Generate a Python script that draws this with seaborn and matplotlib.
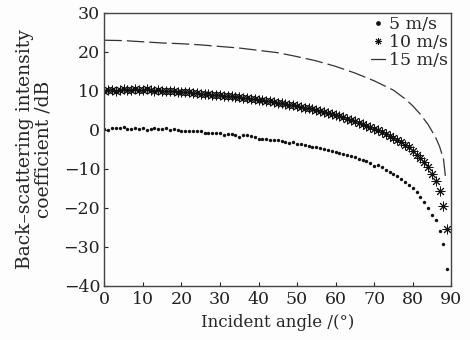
import numpy as np
import pandas as pd
import matplotlib
matplotlib.use("Agg")
import matplotlib.pyplot as plt
import seaborn as sns
from matplotlib.lines import Line2D

# incident angle (deg) for the scattered series
angle = list(range(0, 90))

# 5 m/s back-scattering coefficient (dB)
v5 = [0.3, 0.1, 0.6, 0.4, 0.5, 0.7, 0.3, 0.2, 0.6, 0.3,
      0.5, 0.0, 0.2, 0.6, 0.2, 0.3, 0.4, -0.1, 0.3, 0.1,
      -0.3, -0.3, -0.2, -0.4, -0.2, -0.3, -0.7, -0.8, -0.7, -0.9,
      -0.8, -1.3, -1.1, -1.0, -1.4, -1.7, -1.3, -1.2, -1.6, -1.9,
      -2.2, -2.3, -2.4, -2.5, -2.6, -2.7, -2.8, -3.1, -3.3, -3.2,
      -3.5, -3.7, -3.9, -4.1, -4.3, -4.5, -4.7, -5.0, -5.2, -5.4,
      -5.6, -5.8, -6.1, -6.3, -6.6, -7.0, -7.4, -7.6, -8.0, -8.6,
      -9.2, -9.0, -9.6, -10.2, -10.7, -11.3, -11.9, -12.6, -13.3, -14.1,
      -15.0, -16.0, -17.2, -18.4, -19.9, -21.9, -23.2, -26.0, -29.3, -35.6]

# 10 m/s back-scattering coefficient (dB)
v10 = [10.0, 10.2, 10.3, 10.1, 10.3, 10.4, 10.2, 10.3, 10.4, 10.3,
       10.2, 10.4, 10.2, 10.1, 10.2, 10.0, 10.1, 9.9, 10.0, 9.8,
       9.7, 9.6, 9.6, 9.5, 9.4, 9.3, 9.3, 9.1, 9.0, 9.0,
       8.9, 8.8, 8.7, 8.6, 8.5, 8.4, 8.3, 8.2, 8.0, 7.9,
       7.8, 7.6, 7.5, 7.3, 7.2, 7.0, 6.9, 6.7, 6.5, 6.3,
       6.1, 5.9, 5.7, 5.5, 5.3, 5.0, 4.8, 4.5, 4.3, 4.0,
       3.7, 3.5, 3.2, 2.9, 2.6, 2.2, 1.9, 1.5, 1.1, 0.7,
       0.3, -0.1, -0.6, -1.0, -1.5, -2.0, -2.6, -3.2, -3.8, -4.5,
       -5.4, -6.3, -7.1, -8.2, -9.5, -11.2, -13.2, -15.6, -19.5, -25.4]

# 15 m/s curve (dB)
angle15 = [0, 5, 10, 15, 20, 25, 30, 35, 40, 45, 50, 55, 60, 65, 70,
           75, 78, 80, 82, 84, 86, 87, 88, 88.6]
v15 = [23.0, 22.9, 22.6, 22.3, 22.1, 21.8, 21.4, 21.0, 20.4, 19.8, 18.8,
       17.7, 16.3, 14.6, 12.6, 10.2, 8.0, 6.2, 4.0, 1.4, -2.0, -4.3, -7.5, -12.8]

sns.set_style("ticks")
plt.rcParams['font.family'] = ['DejaVu Serif']
plt.rcParams['mathtext.fontset'] = 'dejavuserif'

fig = plt.figure(figsize=(4.7, 3.4), dpi=100)
fig.patch.set_facecolor('#fdfdfd')
ax = fig.add_axes([0.222, 0.159, 0.738, 0.803])
ax.set_facecolor('#fdfdfd')

df5 = pd.DataFrame({'angle': angle, 'val': v5})
df10 = pd.DataFrame({'angle': angle, 'val': v10})
df15 = pd.DataFrame({'angle': angle15, 'val': v15})

sns.lineplot(data=df15, x='angle', y='val', ax=ax, color='#333333', lw=0.9,
             sort=False)
ax.lines[-1].set_dashes([14, 4])
sns.scatterplot(data=df10, x='angle', y='val', ax=ax, marker=(8, 2, 0), s=42,
                color='#111111', linewidth=0.7, edgecolor='#111111')
sns.scatterplot(data=df5, x='angle', y='val', ax=ax, marker='o', s=6,
                color='#111111', linewidth=0)

ax.set_xlim(0, 90)
ax.set_ylim(-40, 30)
ax.set_xticks(range(0, 91, 10))
ax.set_yticks(range(-40, 31, 10))
ax.tick_params(direction='in', length=3, width=0.8, labelsize=12.5,
               colors='#222222')
ax.tick_params(axis='x', pad=4)
ax.tick_params(axis='y', pad=3)
for s in ax.spines.values():
    s.set_color('#444444')
    s.set_linewidth(1.0)

ax.set_xlabel('Incident angle /(°)', fontsize=12, labelpad=4)
ax.set_ylabel('Back–scattering intensity\ncoefficient /dB', fontsize=13.5,
              labelpad=8, linespacing=1.0)

handles = [
    Line2D([], [], ls='none', marker='o', ms=2.4, color='#111111'),
    Line2D([], [], ls='none', marker=(8, 2, 0), ms=5, color='#111111', mew=0.7),
    Line2D([], [], ls='-', lw=0.9, color='#333333'),
]
ax.legend(handles, ['5 m/s', '10 m/s', '15 m/s'], loc='upper right',
          frameon=False, fontsize=12.5, handlelength=0.8, handletextpad=0.2,
          labelspacing=0.05, borderaxespad=0.1, borderpad=0.1)

fig.savefig('out.png', dpi=100, facecolor=fig.get_facecolor())
